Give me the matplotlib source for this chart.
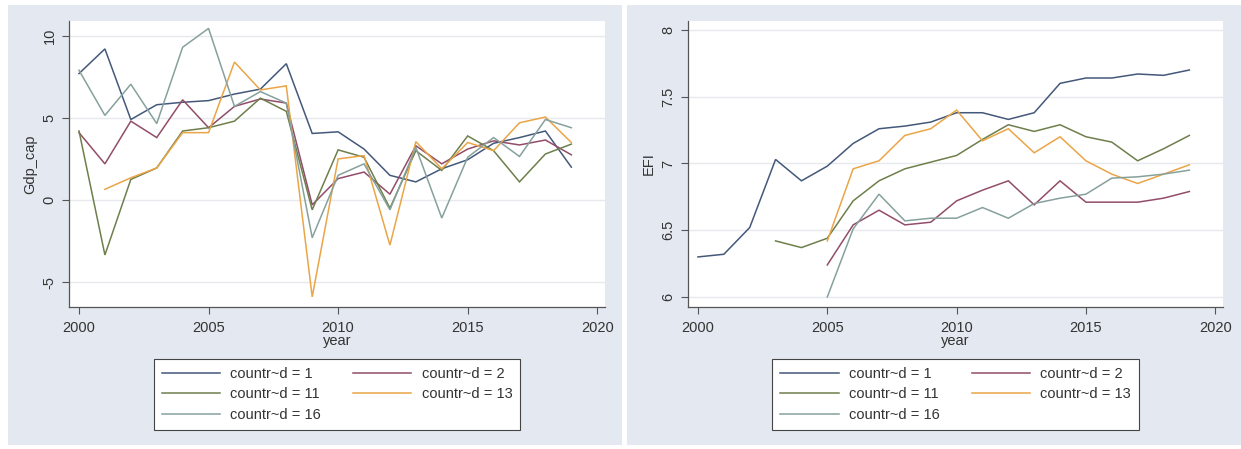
import numpy as np
import matplotlib
matplotlib.use("Agg")
import matplotlib.pyplot as plt
from matplotlib.patches import Rectangle

plt.rcParams['font.family'] = ['Liberation Sans', 'DejaVu Sans']

years = list(range(2000, 2020))
nan = np.nan

# GDP per capita growth by country id
gdp_c1 = [7.7, 9.2, 4.9, 5.8, 5.95, 6.05, 6.45, 6.75, 8.3, 4.05, 4.15, 3.1, 1.5, 1.1, 1.9, 2.45, 3.45, 3.8, 4.2, 2.0]
gdp_c2 = [4.1, 2.2, 4.8, 3.8, 6.1, 4.4, 5.7, 6.15, 5.9, -0.3, 1.3, 1.7, 0.35, 3.3, 2.2, 3.1, 3.6, 3.35, 3.65, 2.75]
gdp_c11 = [4.2, -3.35, 1.25, 1.95, 4.2, 4.4, 4.8, 6.2, 5.4, -0.6, 3.05, 2.6, -0.5, 3.0, 1.8, 3.9, 3.0, 1.1, 2.8, 3.4]
gdp_c13 = [nan, 0.65, 1.35, 1.95, 4.1, 4.1, 8.4, 6.7, 6.95, -5.9, 2.5, 2.7, -2.75, 3.55, 1.9, 3.5, 3.0, 4.7, 5.05, 3.5]
gdp_c16 = [7.9, 5.15, 7.05, 4.65, 9.3, 10.45, 5.7, 6.6, 5.9, -2.3, 1.5, 2.2, -0.6, 3.2, -1.1, 2.6, 3.8, 2.65, 4.9, 4.4]

# Economic Freedom Index by country id
efi_c1 = [6.30, 6.32, 6.52, 7.03, 6.87, 6.98, 7.15, 7.26, 7.28, 7.31, 7.38, 7.38, 7.33, 7.38, 7.60, 7.64, 7.64, 7.67, 7.66, 7.70]
efi_c2 = [nan, nan, nan, nan, nan, 6.24, 6.54, 6.65, 6.54, 6.56, 6.72, 6.80, 6.87, 6.69, 6.87, 6.71, 6.71, 6.71, 6.74, 6.79]
efi_c11 = [nan, nan, nan, 6.42, 6.37, 6.44, 6.72, 6.87, 6.96, 7.01, 7.06, 7.18, 7.29, 7.24, 7.29, 7.20, 7.16, 7.02, 7.11, 7.21]
efi_c13 = [nan, nan, nan, nan, nan, 6.42, 6.96, 7.02, 7.21, 7.26, 7.40, 7.17, 7.26, 7.08, 7.20, 7.02, 6.92, 6.85, 6.92, 6.99]
efi_c16 = [nan, nan, nan, nan, nan, 6.00, 6.51, 6.77, 6.57, 6.59, 6.59, 6.67, 6.59, 6.70, 6.74, 6.77, 6.89, 6.90, 6.92, 6.95]

labels = ["countr~d = 1", "countr~d = 2", "countr~d = 11", "countr~d = 13", "countr~d = 16"]
colors = ["#44587a", "#914d69", "#6e7f4c", "#eaa547", "#86a19d"]

W, H = 1241, 449
fig = plt.figure(figsize=(W / 100, H / 100), dpi=100, facecolor="white")
bg = "#e4e9f1"
txt = "#333333"

# graph regions behind each panel
for x0, x1 in [(8, 622), (627, 1241)]:
    fig.patches.append(Rectangle((x0 / W, 4 / H), (x1 - x0) / W, (444 - 4) / H,
                                 transform=fig.transFigure, facecolor=bg,
                                 edgecolor="none", zorder=-10))


def panel(left_px, right_px, series, ylim, yticks, ytlabels, ylabel):
    ax = fig.add_axes([left_px / W, (H - 307) / H, (right_px - left_px) / W, (307 - 21) / H])
    ax.set_zorder(1)
    ax.set_facecolor("white")
    for vals, c in zip(series, colors):
        ax.plot(years, vals, color=c, lw=1.1, solid_joinstyle="miter")
    ax.set_xlim(1999.614, 2020.3)
    ax.set_ylim(*ylim)
    ax.set_xticks([2000, 2005, 2010, 2015, 2020])
    ax.set_yticks(yticks)
    ax.set_yticklabels(ytlabels, rotation=90, va="center")
    for s in ["top", "right"]:
        ax.spines[s].set_visible(False)
    for s in ["left", "bottom"]:
        ax.spines[s].set_color("#555555")
        ax.spines[s].set_linewidth(0.9)
    ax.tick_params(axis="both", colors="#555555", labelcolor=txt, labelsize=10.5,
                   length=5, width=0.8, direction="out")
    ax.tick_params(axis="x", pad=5)
    ax.tick_params(axis="y", pad=4)
    ax.grid(axis="y", color="#e6eaee", lw=1.0)
    ax.set_axisbelow(True)
    ax.set_xlabel("year", fontsize=10.5, color=txt, labelpad=-1)
    ax.set_ylabel(ylabel, fontsize=10.5, color=txt, labelpad=4)
    hs = ax.get_lines()
    order = [0, 2, 4, 1, 3]
    cx = (left_px + right_px) / 2 / W
    leg = fig.legend([hs[i] for i in order], [labels[i] for i in order],
                     loc="center", bbox_to_anchor=(cx, (H - 394.5) / H),
                     ncol=2, fontsize=10.5, frameon=True, fancybox=False,
                     framealpha=1.0,
                     handlelength=4.0, handletextpad=0.7, columnspacing=2.2,
                     labelspacing=0.45, borderpad=0.55)
    fr = leg.get_frame()
    fr.set_edgecolor("#444444")
    fr.set_linewidth(0.8)
    fr.set_facecolor("white")
    for t in leg.get_texts():
        t.set_color(txt)
    return ax


panel(69, 605, [gdp_c1, gdp_c2, gdp_c11, gdp_c13, gdp_c16],
      (-6.52, 10.9), [-5, 0, 5, 10], ["-5", "0", "5", "10"], "Gdp_cap")
panel(688, 1223, [efi_c1, efi_c2, efi_c11, efi_c13, efi_c16],
      (5.925, 8.067), [6, 6.5, 7, 7.5, 8], ["6", "6.5", "7", "7.5", "8"], "EFI")

fig.savefig("out.png", dpi=100, facecolor="white")
